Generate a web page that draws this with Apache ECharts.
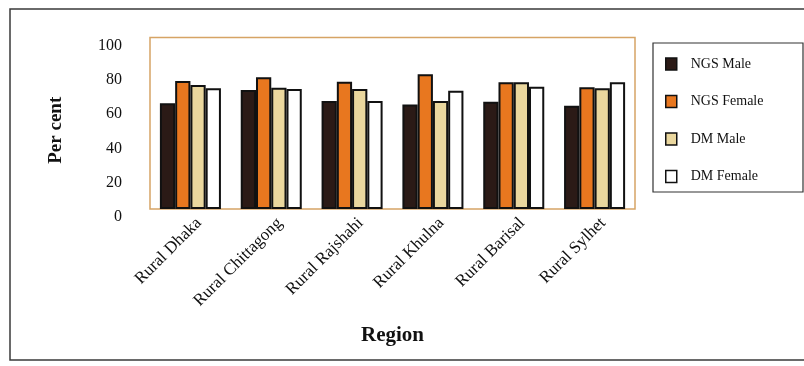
<!DOCTYPE html>
<html>
<head>
<meta charset="utf-8">
<script src="https://cdn.jsdelivr.net/npm/echarts@6/dist/echarts.min.js"></script>
<style>
html,body{margin:0;padding:0;background:#fff;}
#chart{width:804px;height:366px;}
</style>
</head>
<body>
<div id="chart"></div>
<script>
const categories = ['Rural Dhaka', 'Rural Chittagong', 'Rural Rajshahi', 'Rural Khulna', 'Rural Barisal', 'Rural Sylhet'];
const ngsMale   = [61.6, 69.4, 63.0, 61.0, 62.6, 60.2];
const ngsFemale = [74.6, 76.8, 74.2, 78.5, 73.9, 71.0];
const dmMale    = [72.3, 70.7, 70.0, 63.0, 73.9, 70.4];
const dmFemale  = [70.4, 70.0, 63.0, 69.0, 71.3, 73.9];
const seriesNames = ['NGS Male', 'NGS Female', 'DM Male', 'DM Female'];
const yTicks = [0, 20, 40, 60, 80, 100];

const colors = ['#2b1a16', '#e8771f', '#ead79e', '#ffffff'];
const seriesData = [ngsMale, ngsFemale, dmMale, dmFemale];
const serif = '"Liberation Serif", "DejaVu Serif", serif';

const chart = echarts.init(document.getElementById('chart'));
chart.setOption({
  animation: false,
  backgroundColor: '#ffffff',
  textStyle: { fontFamily: serif },
  graphic: [
    { type: 'rect', z: 0, shape: { x: 10, y: 9, width: 820, height: 351 },
      style: { fill: 'none', stroke: '#3a3a3a', lineWidth: 1.5 } },
    { type: 'rect', z: 0, shape: { x: 653, y: 43, width: 150, height: 149 },
      style: { fill: 'none', stroke: '#333', lineWidth: 1.2 } }
  ],
  grid: {
    left: 150, top: 37.5, right: 169, bottom: 157,
    show: true, borderColor: '#d6a465', borderWidth: 1.5, backgroundColor: '#fff'
  },
  legend: {
    orient: 'vertical', left: 665, top: 57, padding: 0,
    itemWidth: 11, itemHeight: 12, itemGap: 23.5,
    icon: 'rect',
    itemStyle: { borderColor: '#111', borderWidth: 1.5 },
    textStyle: { fontFamily: serif, fontSize: 14, color: '#111', lineHeight: 12, padding: [0, 0, 0, 9] },
    data: seriesNames
  },
  xAxis: {
    type: 'category', data: categories,
    name: 'Region', nameLocation: 'middle', nameGap: 116,
    nameTextStyle: { fontFamily: serif, fontSize: 21, fontWeight: 'bold', color: '#111' },
    axisLine: { show: false }, axisTick: { show: false },
    axisLabel: { rotate: 45, interval: 0, margin: 20, fontFamily: serif, fontSize: 17, color: '#111',
      padding: [0, -12, 0, 0] }
  },
  yAxis: {
    type: 'value', min: yTicks[0], max: yTicks[yTicks.length - 1], interval: 20,
    name: 'Per cent', nameLocation: 'middle', nameGap: 84, nameRotate: 90,
    nameTextStyle: { fontFamily: serif, fontSize: 19, fontWeight: 'bold', color: '#111', padding: [0, 14, 0, 0] },
    axisLine: { show: false }, axisTick: { show: false }, splitLine: { show: false },
    axisLabel: { margin: 28, fontFamily: serif, fontSize: 16, color: '#111', verticalAlign: 'top', lineHeight: 16 }
  },
  series: seriesNames.map((n, i) => ({
    name: n, type: 'bar', data: seriesData[i],
    barGap: '0%', barCategoryGap: '24.5%',
    itemStyle: { color: colors[i], borderColor: '#111', borderWidth: 2 }
  }))
});
</script>
</body>
</html>
